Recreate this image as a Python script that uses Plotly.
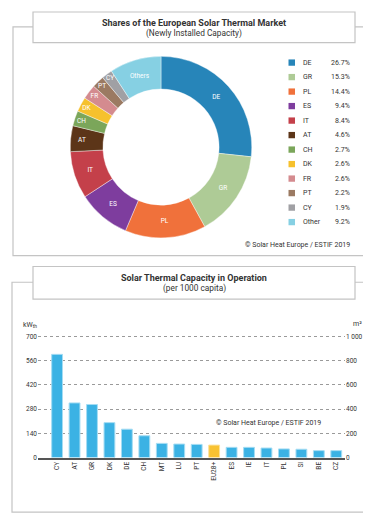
import plotly.graph_objects as go

W, H = 371, 515

# ---- data: pie ----
pie_codes = ["DE", "GR", "PL", "ES", "IT", "AT", "CH", "DK", "FR", "PT", "CY", "Other"]
pie_slice_text = ["DE", "GR", "PL", "ES", "IT", "AT", "CH", "DK", "FR", "PT", "CY", "Others"]
pie_shares = [26.7, 15.3, 14.4, 9.4, 8.4, 4.6, 2.7, 2.6, 2.6, 2.2, 1.9, 9.2]
pie_colors = ["#2785B9", "#AECB96", "#F0713B", "#7E3D9E", "#C4404A", "#5C3518",
              "#7BA65A", "#F6C12D", "#D48B8F", "#9B7A62", "#A0A0A4", "#86D0E3"]

# ---- data: bars ----
bar_countries = ["CY", "AT", "GR", "DK", "DE", "CH", "MT", "LU", "PT", "EU28+",
                 "ES", "IE", "IT", "PL", "SI", "BE", "CZ"]
bar_kwth = [597, 316, 307, 202, 164, 126, 82, 78, 76, 72, 59, 59, 55, 50, 48, 40, 40]
left_ticks = [0, 140, 280, 420, 560, 700]
right_ticks = [0, 200, 400, 600, 800, 1000]
right_tick_text = ["0", "200", "400", "600", "800", "1 000"]

FONT = "Roboto, Arial"
TXT = "#333333"
FRAME = "#C4C4C4"


def X(px):
    return px / W


def Y(py):
    return 1 - py / H


bar_colors = ["#F8C232" if c == "EU28+" else "#3BB2E4" for c in bar_countries]
bar_line = ["#FBE19A" if c == "EU28+" else "#A4DCF3" for c in bar_countries]

fig = go.Figure()

fig.add_trace(go.Pie(
    labels=pie_codes,
    values=pie_shares,
    text=pie_slice_text,
    textinfo="text",
    textposition="inside",
    insidetextorientation="horizontal",
    textfont=dict(color="white", size=6.5, family=FONT),
    marker=dict(colors=pie_colors, line=dict(color="white", width=0.4)),
    hole=0.64,
    sort=False,
    direction="clockwise",
    rotation=0,
    showlegend=False,
    domain=dict(x=[X(61), X(245)], y=[Y(230), Y(46)]),
))

fig.add_trace(go.Bar(
    x=bar_countries,
    y=bar_kwth,
    marker=dict(color=bar_colors, line=dict(color=bar_line, width=1)),
    showlegend=False,
    xaxis="x", yaxis="y",
))
# invisible trace for right axis
fig.add_trace(go.Scatter(x=[bar_countries[0]], y=[0], mode="markers",
                         marker=dict(opacity=0), showlegend=False,
                         xaxis="x", yaxis="y2", hoverinfo="skip"))

shapes = []
annotations = []

# frames
for (x0, y0, x1, y1) in [(5, 16, 365, 248), (4, 275, 365, 508)]:
    shapes.append(dict(type="rect", xref="paper", yref="paper",
                       x0=X(x0), x1=X(x1), y0=Y(y1), y1=Y(y0),
                       line=dict(color=FRAME, width=1.2), layer="below"))
for (x0, y0, x1, y1) in [(25, 1, 347, 32), (25, 259, 347, 292)]:
    shapes.append(dict(type="rect", xref="paper", yref="paper",
                       x0=X(x0), x1=X(x1), y0=Y(y1), y1=Y(y0),
                       fillcolor="white", line=dict(color=FRAME, width=1.2), layer="below"))

# titles
for (txt, py, bold) in [("Shares of the European Solar Thermal Market", 12, True),
                        ("(Newly Installed Capacity)", 23, False),
                        ("Solar Thermal Capacity in Operation", 270.5, True),
                        ("(per 1000 capita)", 281.5, False)]:
    annotations.append(dict(xref="paper", yref="paper", x=X(186), y=Y(py),
                            text=f"<b>{txt}</b>" if bold else txt, showarrow=False,
                            font=dict(size=9 if bold else 8.3, color=TXT, family=FONT),
                            xanchor="center", yanchor="middle"))

# legend
for i, (code, share, col) in enumerate(zip(pie_codes, pie_shares, pie_colors)):
    cy = 52.3 + i * 14.7
    shapes.append(dict(type="rect", xref="paper", yref="paper",
                       x0=X(280.5), x1=X(287), y0=Y(cy + 3.2), y1=Y(cy - 3.2),
                       fillcolor=col, line=dict(width=0)))
    annotations.append(dict(xref="paper", yref="paper", x=X(293), y=Y(cy),
                            text=code, showarrow=False, xanchor="left", yanchor="middle",
                            font=dict(size=7, color=TXT, family=FONT)))
    annotations.append(dict(xref="paper", yref="paper", x=X(344), y=Y(cy),
                            text=f"{share:.1f}%", showarrow=False, xanchor="right",
                            yanchor="middle", font=dict(size=7, color=TXT, family=FONT)))

annotations.append(dict(xref="paper", yref="paper", x=X(344), y=Y(237),
                        text="© Solar Heat Europe / ESTIF 2019", showarrow=False,
                        xanchor="right", yanchor="middle",
                        font=dict(size=7, color=TXT, family=FONT)))
annotations.append(dict(xref="paper", yref="paper", x=X(260), y=Y(418),
                        text="© Solar Heat Europe / ESTIF 2019", showarrow=False,
                        xanchor="center", yanchor="middle",
                        font=dict(size=7, color=TXT, family=FONT)))
annotations.append(dict(xref="paper", yref="paper", x=X(13), y=Y(318),
                        text="kW<sub>th</sub>", showarrow=False,
                        xanchor="left", yanchor="middle",
                        font=dict(size=7, color=TXT, family=FONT)))
annotations.append(dict(xref="paper", yref="paper", x=X(343), y=Y(317),
                        text="m²", showarrow=False,
                        xanchor="left", yanchor="middle",
                        font=dict(size=7, color=TXT, family=FONT)))

fig.update_layout(
    width=W, height=H,
    margin=dict(l=0, r=0, t=0, b=0),
    paper_bgcolor="white", plot_bgcolor="white",
    bargap=0.38,
    uniformtext=dict(minsize=6.5, mode="show"),
    shapes=shapes, annotations=annotations,
    font=dict(family=FONT, color=TXT),
    xaxis=dict(domain=[X(30), X(337)], tickangle=-90,
               tickfont=dict(size=6.5, color=TXT, family=FONT),
               showline=True, linecolor="#555555", linewidth=1.5,
               ticks="", showgrid=False, fixedrange=True),
    yaxis=dict(domain=[Y(452.7), Y(329)], range=[0, 706], tickvals=left_ticks,
               tickfont=dict(size=6.5, color=TXT, family=FONT),
               showgrid=True, gridcolor="#9A9A9A", griddash="dot", gridwidth=1,
               zeroline=False, showline=False, ticks=""),
    yaxis2=dict(overlaying="y", side="right", range=[0, 1000 * 706 / 700],
                tickvals=right_ticks, ticktext=right_tick_text,
                tickfont=dict(size=6.5, color=TXT, family=FONT),
                showgrid=False, zeroline=False, showline=False, ticks=""),
)

fig.write_html("out.html")
